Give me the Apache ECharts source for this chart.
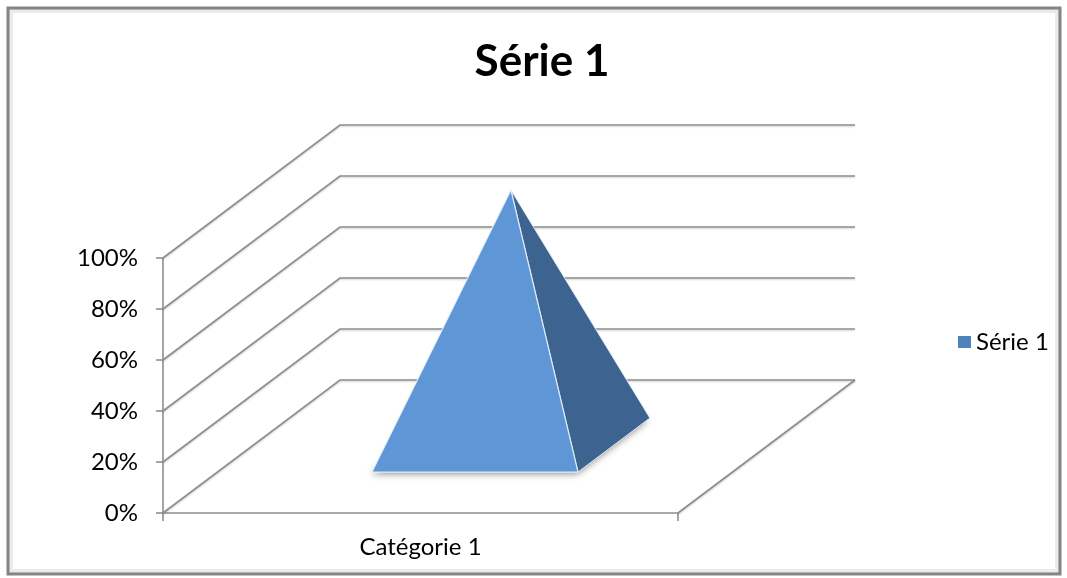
<!DOCTYPE html>
<html><head><meta charset="utf-8">
<script src="https://cdn.jsdelivr.net/npm/echarts@6/dist/echarts.min.js"></script>
<style>html,body{margin:0;padding:0;background:#fff}#c{width:1067px;height:578px}</style>
</head><body><div id="c"></div>
<script>
// ---- data ----
const categories = ['Catégorie 1'];
const seriesName = 'Série 1';
const seriesValues = [1.0];
const yTicks = [0, 0.2, 0.4, 0.6, 0.8, 1.0];
const yTickLabels = ['0%', '20%', '40%', '60%', '80%', '100%'];

// ---- style / layout ----
const DEPTH = [177, -133];          // 3D depth vector (px)
const GRID_COLOR = '#8e8e8e';
const FONT = 'Lato';
const FRONT_COLOR = '#5f96d6';
const SIDE_COLOR = '#3d6490';
const LEGEND_COLOR = '#4f81bd';

const chart = echarts.init(document.getElementById('c'), null, {renderer: 'canvas'});

function labelFor(v) {
  for (let i = 0; i < yTicks.length; i++) if (Math.abs(yTicks[i] - v) < 1e-9) return yTickLabels[i];
  return '';
}

function frameItem(params, api) {
  const cs = params.coordSys;
  const v = api.value(1);
  const p = api.coord([0, v]);
  const x0 = cs.x, x1 = cs.x + cs.width, y = p[1];
  const bx0 = x0 + DEPTH[0], bx1 = x1 + DEPTH[0], by = y + DEPTH[1];
  const style = {stroke: GRID_COLOR, lineWidth: 1.6, fill: null,
    shadowBlur: 2, shadowColor: 'rgba(0,0,0,0.2)', shadowOffsetY: 1};
  const children = [{type: 'polyline', shape: {points: [[x0, y], [bx0, by], [bx1, by]]}, style: style}];
  if (v === 0) children.push({type: 'line', shape: {x1: x1, y1: y, x2: bx1, y2: by}, style: style});
  return {type: 'group', children: children};
}

function pyramidItem(params, api) {
  const base = api.coord([api.value(0), 0]);
  const top = api.coord([api.value(0), api.value(1)]);
  const band = api.size([1, 0])[0];
  const hw = band * 0.2;
  const tf = 0.308, tb = 0.714, tc = 0.511;
  const P = (x, y, t) => [x + DEPTH[0] * t, y + DEPTH[1] * t];
  const fl = P(base[0] - hw, base[1], tf), fr = P(base[0] + hw, base[1], tf);
  const br = P(base[0] + hw, base[1], tb), bl = P(base[0] - hw, base[1], tb);
  const ap = P(top[0], top[1], tc);
  const edge = 'rgba(235,242,250,0.9)';
  return {type: 'group', children: [
    {type: 'polygon', shape: {points: [fl, fr, br, bl]},
      style: {fill: 'rgba(120,120,120,0.8)', shadowBlur: 7, shadowColor: 'rgba(0,0,0,0.55)', shadowOffsetX: -1, shadowOffsetY: 2}},
    {type: 'polygon', shape: {points: [fr, br, ap]}, style: {fill: SIDE_COLOR, stroke: edge, lineWidth: 1}},
    {type: 'polygon', shape: {points: [fl, fr, ap]}, style: {fill: FRONT_COLOR, stroke: edge, lineWidth: 1.2}}
  ]};
}

const option = {
  animation: false,
  backgroundColor: '#ffffff',
  title: {
    text: seriesName, left: 537, top: 35, textAlign: 'center',
    textStyle: {fontFamily: FONT, fontSize: 44, fontWeight: 'bold', color: '#000'}
  },
  legend: {
    data: [seriesName], left: 953, top: 325, icon: 'rect', itemWidth: 13, itemHeight: 12,
    textStyle: {fontFamily: FONT, fontSize: 24, color: '#000'}
  },
  grid: {left: 163, right: 389, top: 258, bottom: 65},
  xAxis: {
    type: 'category', data: categories,
    axisLine: {lineStyle: {color: GRID_COLOR, width: 1.6}},
    axisTick: {show: true, length: 8, lineStyle: {color: GRID_COLOR, width: 1.6}},
    axisLabel: {margin: 22, fontFamily: FONT, fontSize: 24, color: '#000'},
    splitLine: {show: false}
  },
  yAxis: {
    type: 'value', min: 0, max: 1, interval: 0.2,
    axisLine: {show: true, lineStyle: {color: GRID_COLOR, width: 1.6}},
    axisTick: {show: true, length: 7, lineStyle: {color: GRID_COLOR, width: 1.6}},
    axisLabel: {margin: 25, fontFamily: FONT, fontSize: 24, color: '#000', formatter: labelFor},
    splitLine: {show: false}
  },
  graphic: [
    {type: 'rect', shape: {x: 8, y: 8, width: 1052, height: 566}, silent: true,
      style: {fill: null, stroke: '#858585', lineWidth: 3}},
    {type: 'rect', shape: {x: 11, y: 11, width: 1046, height: 560}, silent: true,
      style: {fill: null, stroke: 'rgba(0,0,0,0.08)', lineWidth: 4}}
  ],
  series: [
    {name: 'frame', type: 'custom', renderItem: frameItem, clip: false, silent: true, z: 1,
      data: yTicks.map(v => [0, v])},
    {name: seriesName, type: 'custom', renderItem: pyramidItem, clip: false, z: 5,
      itemStyle: {color: LEGEND_COLOR},
      data: seriesValues.map((v, i) => [i, v])}
  ]
};
chart.setOption(option);
</script>
</body></html>
